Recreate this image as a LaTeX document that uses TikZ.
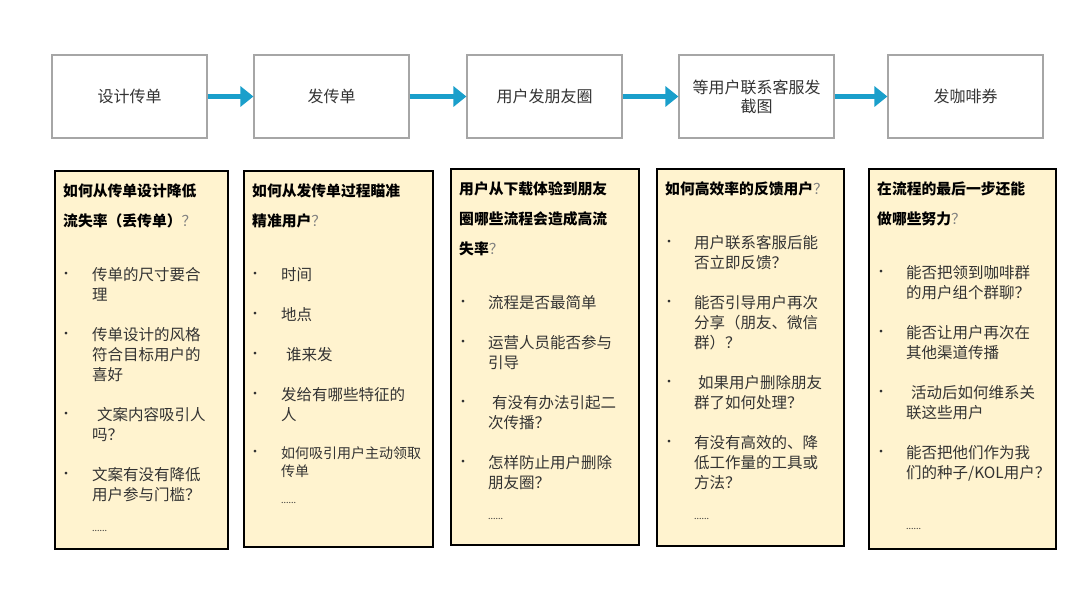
\documentclass[tikz,border=0pt]{standalone}
\usepackage{fontspec}
\setmainfont{Noto Sans CJK SC}
\usetikzlibrary{arrows.meta}
\definecolor{tc}{HTML}{333333}
\definecolor{ac}{HTML}{1A9FCB}
\definecolor{bf}{HTML}{FFF3CF}
\tikzset{
 topbox/.style={draw=gray!70,line width=1.2pt,fill=white,minimum width=155pt,minimum height=83pt,align=center,font=\fontsize{16}{19}\selectfont,text=tc},
 qbox/.style={draw=black,line width=2.6pt,fill=bf},
 flow/.style={ac,line width=5.5pt,-{Triangle[length=13pt,width=20pt]}},
 txt/.style={anchor=west,inner sep=0pt,text=tc,font=\fontsize{15.5}{18}\selectfont},
 hd/.style={anchor=west,inner sep=0pt,text=black,font=\fontsize{14.8}{18}\selectfont\bfseries},
 bul/.style={anchor=center,inner sep=0pt,text=tc,font=\fontsize{13}{14}\selectfont},
}
\newcommand\Q{{\mdseries\color{gray}？}}
\newcommand\tl[3]{\node[txt] at (#1,#2) {#3};}
\newcommand\bl[2]{\node[bul] at (#1,#2) {•};}
\begin{document}
\begin{tikzpicture}[x=1pt,y=-1pt]
\useasboundingbox (0,0) rectangle (1080,592);
\fill[white] (0,0) rectangle (1080,592);
\node[topbox] (t1) at (129.5,96.5) {设计传单};
\node[topbox] (t2) at (331.5,96.5) {发传单};
\node[topbox] (t3) at (544.5,96.5) {用户发朋友圈};
\node[topbox] (t4) at (756.5,96.5) {等用户联系客服发\\截图};
\node[topbox] (t5) at (965.5,96.5) {发咖啡券};
\draw[flow] (t1) -- (t2);
\draw[flow] (t2) -- (t3);
\draw[flow] (t3) -- (t4);
\draw[flow] (t4) -- (t5);
\draw[qbox] (55,171) rectangle (228,549);
\draw[qbox] (244,171) rectangle (433,547);
\draw[qbox] (451,169) rectangle (639,545);
\draw[qbox] (657,169) rectangle (844,546);
\draw[qbox] (869,169) rectangle (1056,549);
% box1
\node[hd] at (63,191) {如何从传单设计降低};
\node[hd] at (63,221) {流失率（丢传单）\Q};
\bl{66}{275}\tl{92}{275}{传单的尺寸要合}\tl{92}{295}{理}
\bl{66}{335}\tl{92}{335}{传单设计的风格}\tl{92}{355}{符合目标用户的}\tl{92}{375}{喜好}
\bl{66}{415}\tl{97}{415}{文案内容吸引人}\tl{92}{435}{吗？}
\bl{66}{475}\tl{92}{475}{文案有没有降低}\tl{92}{495}{用户参与门槛？}
\tl{92}{531}{\small ......}
% box2
\node[hd] at (252,191) {如何从发传单过程瞄准};
\node[hd] at (252,221) {精准用户\Q};
\bl{255}{275}\tl{281}{275}{时间}
\bl{255}{315}\tl{281}{315}{地点}
\bl{255}{355}\tl{286}{355}{谁来发}
\bl{255}{395}\tl{281}{395}{发给有哪些特征的}\tl{281}{415}{人}
\bl{255}{453}\node[txt,font=\fontsize{14}{16}\selectfont] at (281,453) {如何吸引用户主动领取};
\node[txt,font=\fontsize{14}{16}\selectfont] at (281,471) {传单};
\tl{281}{503}{\small ......}
% box3
\node[hd] at (459,189) {用户从下载体验到朋友};
\node[hd] at (459,219) {圈哪些流程会造成高流};
\node[hd] at (459,249) {失率\Q};
\bl{463}{303}\tl{488}{303}{流程是否最简单}
\bl{463}{343}\tl{488}{343}{运营人员能否参与}\tl{488}{363}{引导}
\bl{463}{403}\tl{492}{403}{有没有办法引起二}\tl{488}{423}{次传播？}
\bl{463}{463}\tl{488}{463}{怎样防止用户删除}\tl{488}{483}{朋友圈？}
\tl{488}{519}{\small ......}
% box4
\node[hd] at (665,189) {如何高效率的反馈用户\Q};
\bl{669}{243}\tl{694}{243}{用户联系客服后能}\tl{694}{263}{否立即反馈？}
\bl{669}{303}\tl{694}{303}{能否引导用户再次}\tl{694}{323}{分享（朋友、微信}\tl{694}{343}{群）？}
\bl{669}{383}\tl{698}{383}{如果用户删除朋友}\tl{694}{403}{群了如何处理？}
\bl{669}{443}\tl{694}{443}{有没有高效的、降}\tl{694}{463}{低工作量的工具或}\tl{694}{483}{方法？}
\tl{694}{519}{\small ......}
% box5
\node[hd] at (877,189) {在流程的最后一步还能};
\node[hd] at (877,219) {做哪些努力\Q};
\bl{881}{273}\tl{906}{273}{能否把领到咖啡群}\tl{906}{293}{的用户组个群聊？}
\bl{881}{333}\tl{906}{333}{能否让用户再次在}\tl{906}{353}{其他渠道传播}
\bl{881}{393}\tl{911}{393}{活动后如何维系关}\tl{906}{413}{联这些用户}
\bl{881}{453}\tl{906}{453}{能否把他们作为我}\tl{906}{473}{们的种子/KOL用户？}
\tl{906}{529}{\small ......}
\end{tikzpicture}
\end{document}
